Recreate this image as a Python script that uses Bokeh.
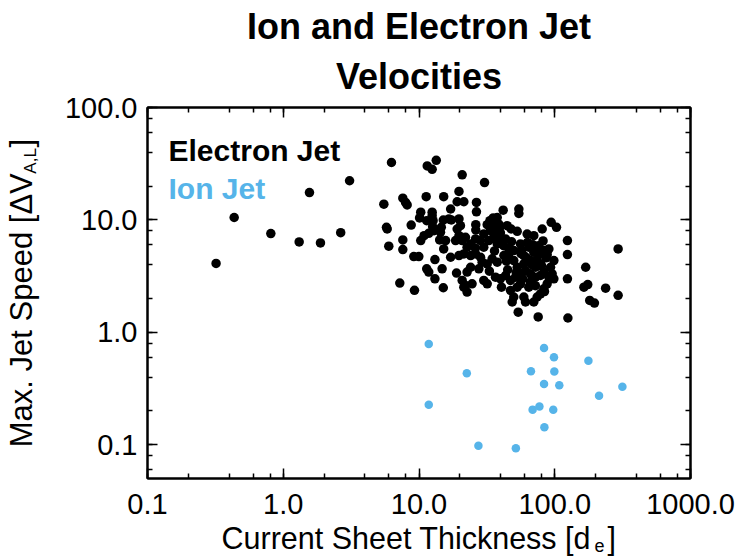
from bokeh.plotting import figure
from bokeh.models import (LogAxis, LogTicker, FixedTicker, CustomJSTickFormatter,
                          Label, Range1d, Title)
from bokeh.embed import file_html
from bokeh.resources import INLINE

# Electron jets: current sheet thickness [d_e] and max jet speed [dV_A,L]
electron_thickness = [
    0.32, 0.435, 0.81, 1.31, 1.88, 2.65, 1.56, 3.08,
    6.27, 11.5, 12.5, 13.4, 20.8, 30.4, 5.51, 7.60, 8.18, 11.3, 15.2, 19.7,
    19.1, 21.4, 26.5, 26.5, 41.7, 54.4, 54.4, 5.76, 5.83, 8.76, 10.3, 10.1,
    11.4, 12.5, 12.7, 12.6, 15.1, 16.6, 17.1, 19.7, 20.2, 26.2, 26.2, 31.8,
    33.3, 35.2, 37.7, 39.4, 35.6, 44.6, 47.7, 52.9, 62.6, 70.1, 80.8, 94.1,
    103, 7.60, 7.60, 5.99, 9.16, 9.97, 10.3, 10.9, 11.8, 12.9, 14.4, 14.2,
    15.7, 15.2, 13.1, 11.4, 11.8, 13.1, 14.8, 15.1, 17.1, 18.9, 19.1, 19.7,
    18.6, 20.8, 22.0, 22.6, 24.0, 26.1, 28.4, 26.1, 28.4, 24.0, 21.4, 19.7,
    30.0, 32.7, 35.6, 37.7, 39.8, 43.4, 45.9, 49.9, 55.9, 59.2, 64.4, 70.1,
    76.4, 83.1, 90.5, 98.5, 93.1, 78.5, 72.2, 66.3, 59.2, 52.9, 49.9, 45.9,
    42.2, 37.7, 34.6, 31.8, 29.2, 27.6, 24.0, 22.6, 20.8, 21.4, 22.6, 22.0,
    24.6, 30.0, 31.8, 36.6, 39.8, 43.4, 47.2, 51.4, 55.9, 60.9, 66.3, 72.2,
    78.5, 83.1, 90.5, 95.7, 98.5, 40.5, 47.2, 49.9, 48.6, 59.2, 60.9, 70.1,
    74.2, 78.5, 83.1, 87.9, 64.4, 55.9, 52.9, 7.22, 9.26, 53.8, 75.5, 125,
    124, 124, 124, 169, 164, 175, 181, 196, 237, 293, 293,
    7.96, 12.5, 14.6, 17.3, 34.6, 38.7, 33.6, 30.0, 35.6, 39.8,
    56.5, 62.0, 68.0, 74.0, 80.0, 86.0, 45.0, 52.0, 58.0, 66.0, 72.0, 84.0,
    42.0, 48.0, 57.0, 63.0, 69.0, 76.0, 82.0, 88.0, 36.0, 44.0, 26.0, 33.0,
]
electron_speed = [
    4.1, 10.5, 7.55, 6.37, 6.24, 7.7, 17.5, 22.3,
    32.4, 30.2, 28.2, 33.9, 25.2, 21.5, 13.8, 15.6, 13.6, 16.1, 16.1, 17.9,
    14.5, 14.5, 14.3, 11.8, 12.2, 12.5, 11.4, 8.59, 8.30, 9.00, 11.7, 10.4,
    9.84, 10.9, 9.84, 8.70, 9.97, 10.2, 12.5, 10.2, 8.88, 9.06, 8.13, 9.06,
    9.84, 10.4, 10.5, 8.59, 8.13, 8.88, 8.30, 7.91, 7.49, 7.24, 8.30, 9.51,
    8.59, 6.63, 5.44, 5.83, 4.72, 4.72, 6.54, 7.24, 7.60, 8.02, 7.75, 6.63,
    6.54, 5.51, 4.44, 3.67, 3.43, 2.99, 3.67, 2.49, 4.65, 3.36, 8.30, 7.24,
    6.54, 6.54, 7.00, 5.71, 6.11, 6.77, 6.54, 4.98, 4.65, 4.81, 4.98, 4.81,
    5.71, 6.54, 7.00, 6.11, 6.54, 6.77, 5.51, 5.33, 6.11, 4.81, 5.71, 5.15,
    4.98, 5.33, 5.51, 4.35, 3.79, 4.06, 3.79, 4.35, 4.06, 3.79, 4.35, 4.65,
    4.81, 4.20, 4.50, 4.06, 4.20, 3.67, 3.79, 3.43, 2.89, 2.52, 2.28, 2.61,
    2.70, 2.89, 2.70, 3.09, 2.99, 3.20, 2.89, 3.09, 3.31, 3.54, 3.31, 3.09,
    3.20, 3.43, 3.09, 3.31, 2.99, 2.52, 2.36, 2.06, 1.86, 2.06, 1.86, 1.86,
    2.06, 2.20, 2.44, 2.70, 2.52, 2.70, 2.52, 2.74, 2.36, 1.51, 1.37, 1.34,
    6.54, 4.91, 2.99, 3.79, 2.52, 2.66, 1.92, 1.82, 2.47, 5.51, 2.13,
    14.3, 11.7, 8.6, 10.0, 9.5, 9.19, 8.02, 7.5, 7.65, 7.65,
    5.0, 4.6, 4.0, 4.4, 3.9, 4.6, 3.6, 3.4, 3.0, 2.8, 2.6, 2.3,
    5.9, 6.4, 5.4, 6.3, 6.0, 5.9, 6.5, 4.9, 5.3, 4.3, 5.6, 3.5,
]

# Ion jets
ion_thickness = [11.8, 22.5, 11.8, 27.4, 51.7, 66.8, 83.4, 98.7, 99.3,
                 83.4, 108, 177, 212, 315, 68.7, 77.1, 97.5, 83.9]
ion_speed = [0.788, 0.433, 0.227, 0.0977, 0.093, 0.451, 0.726, 0.600, 0.448,
             0.346, 0.337, 0.557, 0.273, 0.328, 0.205, 0.219, 0.204, 0.143]

title_lines = ["Ion and Electron Jet", "Velocities"]
series_names = ["Electron Jet", "Ion Jet"]
x_title, x_sub = "Current Sheet Thickness [d", "e"
y_title, y_sub = "Max. Jet Speed [\u0394V", "A,L"

ION_BLUE = "#56B4E9"
FONT = "Liberation Sans"
NBSP = "\u00a0"

FRAME_L, FRAME_R, FRAME_T, FRAME_B = 147, 690, 107, 478
W, H = 736, 558

p = figure(width=W, height=H, title=None,
           x_axis_type="log", y_axis_type="log",
           x_range=Range1d(0.1, 1000), y_range=Range1d(0.05, 100),
           output_backend="svg", toolbar_location=None,
           min_border_left=FRAME_L, min_border_right=W - FRAME_R,
           min_border_top=FRAME_T, min_border_bottom=H - FRAME_B)

p.xgrid.visible = False
p.ygrid.visible = False
p.outline_line_color = "black"
p.outline_line_width = 2
p.background_fill_color = "white"
p.border_fill_color = "white"

fmt = CustomJSTickFormatter(code="return tick.toFixed(1);")
blank = CustomJSTickFormatter(code="return '';")


def style_axis(ax, show_labels):
    ax.axis_line_width = 2
    ax.axis_line_color = "black"
    ax.major_tick_in = 10
    ax.major_tick_out = 0
    ax.minor_tick_in = 5
    ax.minor_tick_out = 0
    ax.major_tick_line_width = 1.5
    ax.minor_tick_line_width = 1.5
    ax.major_tick_line_color = "black"
    ax.minor_tick_line_color = "black"
    ax.axis_label = None
    if show_labels:
        ax.formatter = fmt
        ax.major_label_text_font = FONT
        ax.major_label_text_font_size = "29px"
        ax.major_label_text_color = "black"
        ax.major_label_standoff = 10
    else:
        ax.formatter = blank
        ax.major_label_text_font_size = "0px"
        ax.major_label_standoff = 0


for ax in list(p.xaxis) + list(p.yaxis):
    ax.ticker = LogTicker()
    style_axis(ax, True)
p.xaxis[0].major_label_standoff = 15

top_axis = LogAxis(ticker=LogTicker())
style_axis(top_axis, False)
p.add_layout(top_axis, "above")
right_axis = LogAxis(ticker=LogTicker())
style_axis(right_axis, False)
p.add_layout(right_axis, "right")


def title_axis(title, sub, sub_at, orientation, size):
    # Lineless outer axis: its axis label carries the title text and its
    # single tick label carries the subscript, placed inside the gap left
    # in the title string.
    ax = LogAxis(ticker=FixedTicker(ticks=[sub_at]),
                 formatter=CustomJSTickFormatter(code=f"return {sub!r};"))
    ax.axis_line_color = None
    ax.major_tick_line_color = None
    ax.minor_tick_line_color = None
    ax.major_tick_in = 0
    ax.major_tick_out = 0
    ax.major_label_text_font = FONT
    ax.major_label_text_font_size = "18px"
    ax.major_label_text_color = "black"
    ax.major_label_orientation = orientation
    ax.axis_label = title
    ax.axis_label_text_font = FONT
    ax.axis_label_text_font_size = size
    ax.axis_label_text_font_style = "normal"
    ax.axis_label_text_color = "black"
    return ax


x_title_axis = title_axis(x_title + NBSP * 2 + "]", x_sub, 213.6, "horizontal", "30.5px")
x_title_axis.major_label_standoff = 22
x_title_axis.axis_label_standoff = -34
p.add_layout(x_title_axis, "below")

y_title_axis = title_axis(y_title + NBSP * 3 + "]", y_sub, 33.5, "vertical", "31px")
y_title_axis.major_label_text_font_size = "17px"
y_title_axis.major_label_standoff = 21
y_title_axis.axis_label_standoff = -20
p.add_layout(y_title_axis, "left")

# Two-line chart title, stacked outward from the frame
p.add_layout(Title(text=title_lines[1], align="center", vertical_align="top",
                   text_font=FONT, text_color="black", text_font_size="36px",
                   text_font_style="bold", standoff=17), "above")
p.add_layout(Title(text=title_lines[0], align="center", vertical_align="middle",
                   text_font=FONT, text_color="black", text_font_size="36px",
                   text_font_style="bold", standoff=0), "above")

# Data points
p.scatter(x=electron_thickness, y=electron_speed, size=9.5, marker="circle",
          fill_color="black", line_color=None)
p.scatter(x=ion_thickness, y=ion_speed, size=8.5, marker="circle",
          fill_color=ION_BLUE, line_color=None)

# In-plot series key (inside the frame)
for name, color, base in [(series_names[0], "black", 150), (series_names[1], ION_BLUE, 188)]:
    p.add_layout(Label(x=168 - FRAME_L, y=FRAME_B - base, x_units="screen", y_units="screen",
                       text=name, text_font=FONT, text_font_size="30px",
                       text_font_style="bold", text_color=color,
                       text_align="left", text_baseline="alphabetic"))

open("out.html", "w").write(file_html(p, INLINE))
